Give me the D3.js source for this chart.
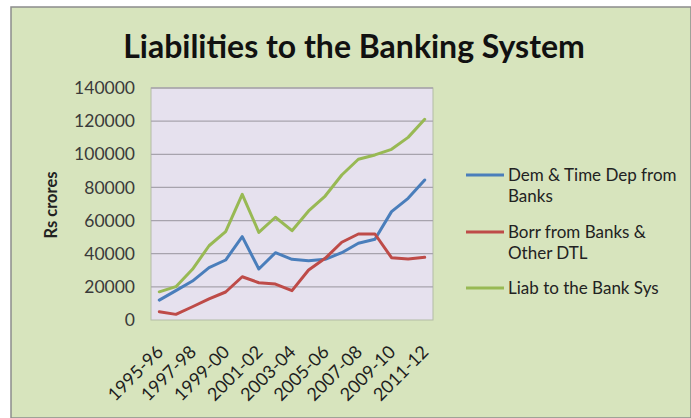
<!DOCTYPE html>
<html>
<head>
<meta charset="utf-8">
<script src="https://cdn.jsdelivr.net/npm/d3@7"></script>
<style>
  html, body { margin: 0; padding: 0; background: #ffffff; }
  svg { display: block; }
  text { font-family: Lato, "Liberation Sans", sans-serif; }
</style>
</head>
<body>
<script>
// Financial years on the category axis
const years = ["1995-96","1996-97","1997-98","1998-99","1999-00","2000-01","2001-02","2002-03",
               "2003-04","2004-05","2005-06","2006-07","2007-08","2008-09","2009-10","2010-11","2011-12"];

// Series values, Rs crores
const demTimeDep = [12000,17700,23500,31600,36200,50300,30800,40600,36600,35800,36600,40600,46300,48700,65400,73400,84500];
const borrOther  = [5000,3400,8000,12700,16900,26100,22500,21700,17700,30200,37200,46900,51900,51900,37600,36800,37800];
const liabTotal  = [17000,20100,30600,44800,53300,75800,52900,62000,53900,65800,74800,87500,97000,99600,103000,110200,121100];

const seriesNames = ["Dem & Time Dep from Banks", "Borr from Banks & Other DTL", "Liab to the Bank Sys"];
const seriesColors = ["#4a7ebb", "#be4b48", "#98b954"];
const yTicks = [0,20000,40000,60000,80000,100000,120000,140000];
const xLabels = years.filter((d, i) => i % 2 === 0);

const W = 691, H = 418;
const svg = d3.select("body").append("svg").attr("width", W).attr("height", H);

// Chart area background and frame
svg.append("rect").attr("x", 11).attr("y", 7).attr("width", W - 11).attr("height", H - 7)
  .attr("fill", "#d7e4bd").attr("stroke", "#8c8c8c").attr("stroke-width", 1.5);

// Title
svg.append("text").attr("x", 354).attr("y", 58).attr("text-anchor", "middle")
  .attr("font-weight", "bold").attr("font-size", 32).attr("fill", "#111")
  .text("Liabilities to the Banking System");

const plot = { left: 151, top: 88, right: 433, bottom: 320 };

const x = d3.scaleBand().domain(years).range([plot.left, plot.right]);
const y = d3.scaleLinear().domain([0, 140000]).range([plot.bottom, plot.top]);

// Plot area
svg.append("rect").attr("x", plot.left).attr("y", plot.top)
  .attr("width", plot.right - plot.left).attr("height", plot.bottom - plot.top)
  .attr("fill", "#e6e1ee").attr("stroke", "#b3bba6").attr("stroke-width", 1);

// Horizontal gridlines
svg.append("g").selectAll("line").data(yTicks.filter(d => d > 0)).join("line")
  .attr("x1", plot.left).attr("x2", plot.right)
  .attr("y1", d => y(d)).attr("y2", d => y(d))
  .attr("stroke", "#a7a3ad").attr("stroke-width", 1.3);

// Y axis labels
const yAxis = d3.axisLeft(y).tickValues(yTicks).tickSize(0).tickPadding(16).tickFormat(d3.format("d"));
const gy = svg.append("g").attr("transform", `translate(${plot.left},0)`).call(yAxis);
gy.select(".domain").remove();
gy.selectAll("text").attr("font-size", 17.5).attr("fill", "#3a3a3a")
  .style("font-family", "Lato, sans-serif");

// Y axis title
svg.append("text").attr("transform", "translate(57,205) rotate(-90)")
  .attr("text-anchor", "middle").attr("font-weight", "bold").attr("font-size", 16.5)
  .attr("fill", "#222").text("Rs crores");

// X axis labels, rotated
const xAxis = d3.axisBottom(x).tickValues(xLabels).tickSize(0).tickPadding(0);
const gx = svg.append("g").attr("transform", `translate(0,${plot.bottom})`).call(xAxis);
gx.select(".domain").remove();
gx.selectAll("text")
  .attr("text-anchor", "end").attr("dy", null).attr("y", 0)
  .attr("transform", "translate(5,33) rotate(-45)")
  .attr("font-size", 18).attr("fill", "#1e1e1e")
  .style("font-family", "Lato, sans-serif");

// Lines
const line = d3.line().x((d, i) => x(years[i]) + x.bandwidth() / 2).y(d => y(d));
const allSeries = [demTimeDep, borrOther, liabTotal];
svg.append("g").selectAll("path").data(allSeries).join("path")
  .attr("d", line).attr("fill", "none")
  .attr("stroke", (d, i) => seriesColors[i]).attr("stroke-width", 3)
  .attr("stroke-linejoin", "round").attr("stroke-linecap", "round");

// Legend
const legendLines = [["Dem & Time Dep from", "Banks"], ["Borr from Banks &", "Other DTL"], ["Liab to the Bank Sys"]];
const legendY = [175, 232, 288];
const lg = svg.append("g");
legendLines.forEach((lines, i) => {
  lg.append("line").attr("x1", 466).attr("x2", 504)
    .attr("y1", legendY[i]).attr("y2", legendY[i])
    .attr("stroke", seriesColors[i]).attr("stroke-width", 3);
  const t = lg.append("text").attr("x", 508).attr("y", legendY[i] + 6)
    .attr("font-size", 17).attr("fill", "#222");
  lines.forEach((s, j) => {
    t.append("tspan").attr("x", 508).attr("dy", j === 0 ? 0 : 21).text(s);
  });
});
</script>
</body>
</html>
